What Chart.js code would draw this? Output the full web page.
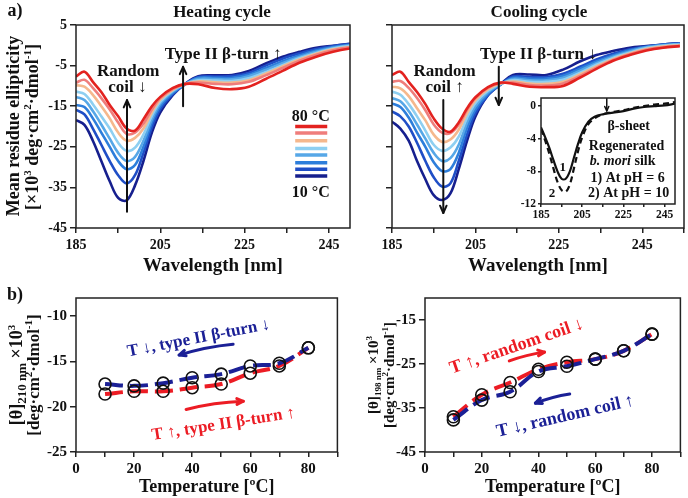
<!DOCTYPE html>
<html>
<head>
<meta charset="utf-8">
<title>CD spectra, heating and cooling</title>
<script src="https://cdn.jsdelivr.net/npm/chart.js@4.4.1/dist/chart.umd.min.js"></script>
<style>
  html, body { margin:0; padding:0; background:#fff; }
  #fig { position:relative; width:688px; height:498px; overflow:hidden;
         font-family:'Liberation Serif','Times New Roman',serif; font-weight:bold; color:#111; }
  #fig canvas { position:absolute; }
  .lbl { position:absolute; transform:translate(-50%,-50%); white-space:nowrap; line-height:1; }
</style>
</head>
<body>
<div id="fig">
  <canvas id="heat" width="356" height="278" style="left:0;top:0"></canvas>
  <canvas id="cool" width="332" height="278" style="left:356px;top:0"></canvas>
  <canvas id="inset" width="172" height="136" style="left:508px;top:88px"></canvas>
  <canvas id="b210" width="345" height="216" style="left:0;top:282px"></canvas>
  <canvas id="b198" width="343" height="216" style="left:345px;top:282px"></canvas>
  <div class="lbl" style="left:15px;top:10px;font-size:18px">a)</div>
  <div class="lbl" style="left:15px;top:294px;font-size:18px">b)</div>
  <div class="lbl" style="left:222px;top:11px;font-size:17px">Heating cycle</div>
  <div class="lbl" style="left:539px;top:11px;font-size:17px">Cooling cycle</div>
</div>
<script>
// ---------- data: CD spectra (mean residue ellipticity, x10^3) ----------
const wavelengths = [185,187,189,191,193,195,197,199,201,203,205,208,211,214,218,222,226,230,234,238,242,246,250,254];
const tempLabels = ['80 °C','70 °C','60 °C','50 °C','40 °C','30 °C','20 °C','10 °C'];

// heating cycle
const heat80 = [-7.7,-6.5,-9.0,-11.5,-14.7,-17.5,-20.5,-21.0,-18.2,-15.0,-12.7,-10.5,-9.5,-9.6,-10.5,-10.8,-10.2,-8.3,-6.3,-4.3,-2.8,-1.6,-0.8,-0.3];
const heat70 = [-9.2,-8.5,-10.5,-13.0,-15.8,-19.0,-21.8,-21.5,-19.3,-15.8,-13.0,-10.7,-9.5,-9.2,-9.5,-9.6,-9.0,-7.4,-5.6,-3.8,-2.3,-1.2,-0.5,-0.1];
const heat60 = [-9.8,-10.2,-12.2,-15.0,-18.0,-21.5,-23.5,-22.8,-20.5,-16.5,-13.4,-10.9,-9.5,-8.9,-9.1,-9.2,-8.6,-7.0,-5.2,-3.5,-2.1,-1.0,-0.4,0.1];
const heat50 = [-11.4,-12.0,-14.5,-17.5,-20.5,-24.0,-26.0,-25.2,-22.0,-17.3,-13.9,-11.1,-9.5,-8.6,-8.7,-8.8,-8.1,-6.6,-4.9,-3.2,-1.9,-0.8,-0.2,0.2];
const heat40 = [-12.7,-13.5,-16.2,-19.5,-23.0,-26.5,-28.5,-27.5,-23.5,-18.2,-14.4,-11.4,-9.5,-8.3,-8.3,-8.4,-7.6,-6.1,-4.4,-2.9,-1.6,-0.6,0.0,0.3];
const heat30 = [-14.7,-15.2,-18.0,-21.5,-25.0,-28.5,-30.5,-29.5,-25.0,-19.0,-15.0,-11.7,-9.5,-8.0,-8.0,-8.0,-7.2,-5.6,-3.9,-2.5,-1.3,-0.4,0.1,0.4];
const heat20 = [-15.9,-17.0,-20.5,-24.5,-28.5,-32.0,-34.0,-32.0,-26.5,-20.2,-15.7,-12.0,-9.5,-7.8,-7.7,-7.6,-6.8,-5.0,-3.3,-2.0,-0.9,-0.2,0.3,0.5];
const heat10 = [-18.4,-19.6,-23.5,-28.5,-33.5,-37.6,-38.2,-34.5,-28.5,-21.5,-16.5,-12.2,-9.4,-7.6,-7.4,-7.3,-6.3,-4.5,-2.8,-1.6,-0.6,-0.1,0.4,0.6];

// cooling cycle
const cool80 = [-7.3,-6.5,-9.0,-11.5,-14.5,-18.0,-20.5,-21.3,-19.0,-15.5,-12.8,-10.3,-9.2,-9.5,-10.2,-10.3,-10.0,-8.0,-5.8,-3.8,-2.4,-1.3,-0.6,-0.2];
const cool70 = [-9.0,-8.8,-10.5,-13.0,-16.0,-19.5,-21.5,-21.6,-19.5,-15.9,-13.0,-10.5,-9.3,-9.2,-9.8,-9.9,-9.4,-7.6,-5.5,-3.6,-2.2,-1.1,-0.5,-0.1];
const cool60 = [-10.2,-10.6,-12.5,-15.5,-18.5,-22.0,-23.8,-23.2,-20.8,-16.7,-13.5,-10.8,-9.4,-8.9,-9.4,-9.5,-9.0,-7.2,-5.2,-3.4,-2.0,-0.9,-0.3,0.0];
const cool50 = [-11.4,-12.2,-14.5,-17.5,-21.0,-24.5,-26.0,-25.2,-22.5,-17.8,-14.2,-11.2,-9.5,-8.6,-9.0,-9.0,-8.5,-6.8,-4.8,-3.1,-1.8,-0.7,-0.1,0.2];
const cool40 = [-13.0,-13.8,-16.2,-19.5,-23.0,-26.5,-28.5,-27.8,-24.5,-19.0,-15.0,-11.6,-9.6,-8.3,-8.6,-8.6,-8.0,-6.3,-4.4,-2.8,-1.5,-0.5,0.0,0.3];
const cool30 = [-14.3,-15.2,-17.8,-21.5,-25.0,-28.8,-31.0,-30.5,-26.5,-20.3,-15.8,-12.0,-9.7,-8.0,-8.2,-8.2,-7.5,-5.8,-4.0,-2.5,-1.2,-0.4,0.1,0.4];
const cool20 = [-16.3,-17.5,-20.0,-24.0,-28.5,-32.5,-34.8,-34.0,-28.5,-22.0,-16.7,-12.3,-9.7,-7.7,-7.8,-7.8,-7.0,-5.3,-3.5,-2.1,-1.0,-0.3,0.2,0.5];
const cool10 = [-18.8,-20.5,-23.5,-28.5,-33.0,-36.9,-38.1,-36.5,-30.5,-23.5,-17.5,-12.3,-9.6,-7.3,-7.2,-7.3,-6.0,-4.0,-2.4,-1.4,-0.6,-0.2,0.2,0.5];

// inset: regenerated b. mori silk
const insetWl = [185,187,189,191,193,195,197,199,201,203,205,208,211,215,220,225,230,235,240,245,250];
const silkPH6  = [-2.6,-3.8,-5.1,-6.6,-8.0,-8.9,-8.9,-8.0,-6.3,-4.6,-3.2,-1.9,-1.3,-1.0,-0.8,-0.6,-0.3,-0.1,0.0,0.1,0.3];
const silkPH10 = [-2.8,-4.2,-5.8,-7.6,-9.3,-10.3,-10.5,-9.6,-7.6,-5.5,-3.8,-2.2,-1.5,-1.0,-0.7,-0.5,-0.2,0.0,0.2,0.3,0.5];

// panel b: ellipticity vs temperature
const temps   = [10,20,30,40,50,60,70,80];
const heat210 = [-18.6,-18.3,-18.3,-17.9,-17.5,-16.3,-15.5,-13.5];
const cool210 = [-17.5,-17.7,-17.4,-16.8,-16.4,-15.5,-15.2,-13.5];
const heat198 = [-37.0,-32.0,-29.2,-26.2,-24.6,-23.9,-22.0,-18.2];
const cool198 = [-37.7,-33.2,-31.3,-26.7,-25.5,-23.9,-22.0,-18.2];

// tick values
const wlTicks      = [185,195,205,215,225,235,245];
const wlTicksWide  = [185,195,205,215,225,235,245,255];
const ellipTicks   = [-45,-35,-25,-15,-5,5];
const insetYTicks  = [-12,-8,-4,0];
const tempTicks    = [0,10,20,30,40,50,60,70,80,90];
const b210Ticks    = [-25,-20,-15,-10];
const b198Ticks    = [-45,-35,-25,-15];

// ---------- style ----------
const FONT = "'Liberation Serif','Times New Roman',serif";
const curveColors = ['#e3221f','#ef7d7b','#f5b88d','#8ecff1','#56a7e7','#2d7edb','#1f4ec6','#161f8e'];
const RED = '#ec1c24', BLUE = '#1b2096', INK = '#222';

Chart.defaults.font.family = FONT;
Chart.defaults.font.weight = 'bold';
Chart.defaults.font.size = 14;
Chart.defaults.color = '#111';
Chart.defaults.animation = false;
Chart.defaults.responsive = false;
Chart.defaults.events = [];
Chart.defaults.plugins.legend.display = false;
Chart.defaults.plugins.tooltip.enabled = false;
Chart.defaults.elements.point.radius = 0;

// ---------- helpers ----------
const every20 = v => (v - 185) % 20 === 0 ? String(v) : '';

function axis(o){
  return {
    type:'linear', min:o.min, max:o.max,
    ticks:{ autoSkip:false, maxRotation:0, padding:o.pad ?? 3,
            font:{size:o.fs || 14}, callback:o.cb || (v => String(v)) },
    grid:{ drawOnChartArea:false, drawTicks:true, tickLength:o.tl || 5, color:INK, lineWidth:1.5 },
    border:{ display:false },
    title: o.title ? { display:true, text:o.title, font:{size:o.tfs || 18}, padding:{top:0, bottom:o.tpad ?? 1} }
                   : { display:false },
    afterBuildTicks: s => { s.ticks = o.at.map(v => ({value:v})); },
    afterFit:o.fit
  };
}

const frame = {
  id:'frame',
  beforeDraw(chart){
    if (!chart.options.plugins.frameFill) return;
    const a = chart.chartArea, c = chart.ctx;
    c.save(); c.fillStyle = '#fff'; c.fillRect(a.left, a.top, a.right - a.left, a.bottom - a.top); c.restore();
  },
  afterDatasetsDraw(chart){
    const a = chart.chartArea, c = chart.ctx;
    c.save(); c.strokeStyle = INK; c.lineWidth = 1.5;
    c.strokeRect(a.left, a.top, a.right - a.left, a.bottom - a.top); c.restore();
  }
};

function notes(draw){
  return { id:'notes', afterDatasetsDraw(chart){
    const P = (x, y) => [chart.scales.x.getPixelForValue(x), chart.scales.y.getPixelForValue(y)];
    draw(chart.ctx, P);
  }};
}

// text made of segments (superscripts, italics), centred on a point
function rich(ctx, pt, segs, o = {}){
  const base = o.size || 17;
  ctx.save();
  ctx.translate(pt[0], pt[1]);
  if (o.rot) ctx.rotate(o.rot * Math.PI / 180);
  ctx.fillStyle = o.color || '#111';
  ctx.textBaseline = 'alphabetic';
  const fontOf = s => `${s.it ? 'italic ' : ''}bold ${s.size || base}px ${FONT}`;
  let w = 0;
  segs.forEach(s => { ctx.font = fontOf(s); s.w = ctx.measureText(s.t).width; w += s.w; });
  let x = -w / 2;
  segs.forEach(s => { ctx.font = fontOf(s); ctx.fillText(s.t, x, base * 0.34 + (s.dy || 0)); x += s.w; });
  ctx.restore();
}
const txt = (ctx, pt, str, o) => rich(ctx, pt, [{t:str}], o);

function arrow(ctx, A, B, o = {}){
  const [x1, y1] = A, [x2, y2] = B;
  const dx = x2 - x1, dy = y2 - y1, len = Math.hypot(dx, dy), bend = o.bend || 0;
  const cx = (x1 + x2) / 2 - dy / len * bend, cy = (y1 + y2) / 2 + dx / len * bend;
  ctx.save();
  ctx.strokeStyle = o.color || '#111'; ctx.lineWidth = o.width || 2; ctx.lineCap = 'round'; ctx.lineJoin = 'round';
  ctx.beginPath(); ctx.moveTo(x1, y1); ctx.quadraticCurveTo(cx, cy, x2, y2); ctx.stroke();
  const ang = Math.atan2(y2 - cy, x2 - cx), h = o.head || 8, sp = 0.42;
  ctx.beginPath();
  ctx.moveTo(x2 - h * Math.cos(ang - sp), y2 - h * Math.sin(ang - sp));
  ctx.lineTo(x2, y2);
  ctx.lineTo(x2 - h * Math.cos(ang + sp), y2 - h * Math.sin(ang + sp));
  ctx.stroke();
  ctx.restore();
}

const sup = t => ({t, size:11, dy:-7});

function spectra(rows){
  return rows.map((r, i) => ({
    label: tempLabels[i],
    data: wavelengths.map((w, j) => ({x:w, y:r[j]})),
    borderColor: curveColors[i], borderWidth: 2.6, tension: 0.35, clip: 0
  }));
}

// ---------- a) heating ----------
new Chart(document.getElementById('heat'), {
  type:'line',
  data:{ datasets: spectra([heat80,heat70,heat60,heat50,heat40,heat30,heat20,heat10]) },
  options:{
    layout:{ padding:{top:25, right:6, left:0, bottom:0} },
    scales:{
      x: axis({min:185, max:250, at:wlTicks, pad:4, cb:every20,
               title:'Wavelength [nm]', tfs:19, fit:s => { s.height = 50; }}),
      y: axis({min:-45, max:5, at:ellipTicks, tl:6, fit:s => { s.width = 76; }})
    }
  },
  plugins:[frame, notes((c, P) => {
    txt(c, P(197.4, -6.1), 'Random');
    txt(c, P(197.2, -10.0), 'coil ↓');
    arrow(c, P(197.1, -41), P(197.1, -13.5));
    txt(c, P(219.9, -1.9), 'Type II β-turn ↑');
    arrow(c, P(210.4, -15), P(210.4, -5.3));
    // legend
    txt(c, P(240.7, -17.2), tempLabels[0], {size:16});
    const legY = [-20.0,-21.6,-23.5,-25.4,-27.0,-28.9,-30.5,-32.2];
    legY.forEach((v, i) => {
      const a = P(237, v), b = P(244.6, v);
      c.save(); c.strokeStyle = curveColors[i]; c.lineWidth = 3.5;
      c.beginPath(); c.moveTo(a[0], a[1]); c.lineTo(b[0], b[1]); c.stroke(); c.restore();
    });
    txt(c, P(240.7, -36.1), tempLabels[7], {size:16});
    // y title
    txt(c, [13, 126], 'Mean residue ellipticity', {rot:-90, size:18});
    rich(c, [32, 127], [{t:'[×10'}, sup('3'), {t:' deg·cm'}, sup('2'), {t:'·dmol'}, sup('-1'), {t:']'}], {rot:-90, size:18});
  })]
});

// ---------- a) cooling ----------
new Chart(document.getElementById('cool'), {
  type:'line',
  data:{ datasets: spectra([cool80,cool70,cool60,cool50,cool40,cool30,cool20,cool10]) },
  options:{
    layout:{ padding:{top:25, right:0, left:0, bottom:0} },
    scales:{
      x: axis({min:185, max:255, at:wlTicksWide, pad:4, cb:every20,
               title:'Wavelength [nm]', tfs:19, fit:s => { s.height = 50; }}),
      y: axis({min:-45, max:5, at:ellipTicks, tl:6, cb:() => '', fit:s => { s.width = 36; }})
    }
  },
  plugins:[frame, notes((c, P) => {
    txt(c, P(197.6, -6.1), 'Random');
    txt(c, P(197.6, -10.0), 'coil ↑');
    arrow(c, P(197.3, -13.5), P(197.3, -41.3));
    txt(c, P(220.1, -1.9), 'Type II β-turn ↓');
    arrow(c, P(210.6, -5.3), P(210.6, -14.7));
  })]
});

// ---------- a) inset ----------
new Chart(document.getElementById('inset'), {
  type:'line',
  data:{ datasets:[
    { label:'pH 6', data: insetWl.map((w, i) => ({x:w, y:silkPH6[i]})), borderColor:'#111', borderWidth:2.2, tension:0.35, clip:0 },
    { label:'pH 10', data: insetWl.map((w, i) => ({x:w, y:silkPH10[i]})), borderColor:'#111', borderWidth:2.2, borderDash:[6,4], tension:0.35, clip:0 }
  ]},
  options:{
    plugins:{ frameFill:true },
    layout:{ padding:{top:10, right:5, left:0, bottom:0} },
    scales:{
      x: axis({min:185, max:250, at:wlTicks, fs:11.5, tl:3, pad:1, cb:every20, fit:s => { s.height = 20; }}),
      y: axis({min:-12, max:1, at:insetYTicks, fs:11.5, tl:3, pad:2, fit:s => { s.width = 33; }})
    }
  },
  plugins:[frame, notes((c, P) => {
    arrow(c, P(216.9, 0.9), P(216.9, -0.6), {width:1.5, head:5});
    txt(c, P(227.5, -2.35), 'β-sheet', {size:14});
    txt(c, P(226.5, -4.8), 'Regenerated', {size:14});
    rich(c, P(224.6, -6.6), [{t:'b. mori', it:true}, {t:' silk'}], {size:14});
    txt(c, P(227, -8.7), '1) At pH = 6', {size:14});
    txt(c, P(227.5, -10.6), '2) At pH = 10', {size:14});
    txt(c, P(195.6, -7.4), '1', {size:13});
    txt(c, P(190.3, -10.6), '2', {size:13});
  })]
});

// ---------- b) ----------
function fitLine(vals, color, order){
  return { data: temps.map((t, i) => ({x:t, y:vals[i]})), borderColor:color, borderWidth:4,
           borderDash:[18,7], tension:0.4, order };
}
function rings(vals){
  return { data: temps.map((t, i) => ({x:t, y:vals[i]})), showLine:false, pointRadius:6,
           pointBorderColor:'#111', pointBorderWidth:1.6, pointBackgroundColor:'rgba(0,0,0,0)', order:0 };
}
function tempAxis(){
  return axis({min:0, max:90, at:tempTicks, fs:15, pad:3, cb:v => (v % 20 === 0 && v <= 80) ? String(v) : '',
               title:'Temperature [ºC]', tfs:18, tpad:0, fit:s => { s.height = 46; }});
}

new Chart(document.getElementById('b210'), {
  type:'line',
  data:{ datasets:[ fitLine(heat210, RED, 2), fitLine(cool210, BLUE, 1), rings(heat210), rings(cool210) ] },
  options:{
    layout:{ padding:{top:16, right:7, left:0, bottom:0} },
    scales:{
      x: tempAxis(),
      y: axis({min:-25, max:-8, at:b210Ticks, fs:15, tl:6, fit:s => { s.width = 76; }})
    }
  },
  plugins:[frame, notes((c, P) => {
    rich(c, P(42.1, -12.3), [{t:'T ↓, type II β-turn ↓'}], {rot:-11, size:17, color:BLUE});
    arrow(c, P(54.1, -13.1), P(35.5, -14.3), {color:BLUE, width:3, head:7, bend:3});
    rich(c, P(50.7, -21.8), [{t:'T ↑, type II β-turn ↑'}], {rot:-9, size:17, color:RED});
    arrow(c, P(37.9, -20.3), P(57.6, -19.4), {color:RED, width:3, head:7, bend:-3});
    rich(c, [16, 93], [{t:'[θ]'}, {t:'210 nm', size:13, dy:4}, {t:' ×10'}, sup('3')], {rot:-90, size:18});
    rich(c, [33, 93], [{t:'[deg·cm'}, sup('2'), {t:'·dmol'}, sup('-1'), {t:']'}], {rot:-90, size:17});
  })]
});

new Chart(document.getElementById('b198'), {
  type:'line',
  data:{ datasets:[ fitLine(heat198, RED, 2), fitLine(cool198, BLUE, 1), rings(heat198), rings(cool198) ] },
  options:{
    layout:{ padding:{top:16, right:0, left:0, bottom:0} },
    scales:{
      x: tempAxis(),
      y: axis({min:-45, max:-10, at:b198Ticks, fs:15, tl:6, fit:s => { s.width = 80; }})
    }
  },
  plugins:[frame, notes((c, P) => {
    rich(c, P(32.1, -20.7), [{t:'T ↑, random coil ↓'}], {rot:-19, size:18, color:RED});
    arrow(c, P(29.7, -24.3), P(42.1, -22.3), {color:RED, width:3, head:7, bend:-2});
    rich(c, P(49.3, -36.6), [{t:'T ↓, random coil ↑'}], {rot:-13, size:18, color:BLUE});
    arrow(c, P(51, -31.8), P(38.9, -33.9), {color:BLUE, width:3, head:7, bend:2});
    rich(c, [28, 93], [{t:'[θ]'}, {t:'198 nm', size:9, dy:3}, {t:' ×10'}, {t:'3', size:9, dy:-6}], {rot:-90, size:15});
    rich(c, [44, 93], [{t:'[deg·cm'}, {t:'2', size:9, dy:-6}, {t:'·dmol'}, {t:'-1', size:9, dy:-6}, {t:']'}], {rot:-90, size:15});
  })]
});
</script>
</body>
</html>
